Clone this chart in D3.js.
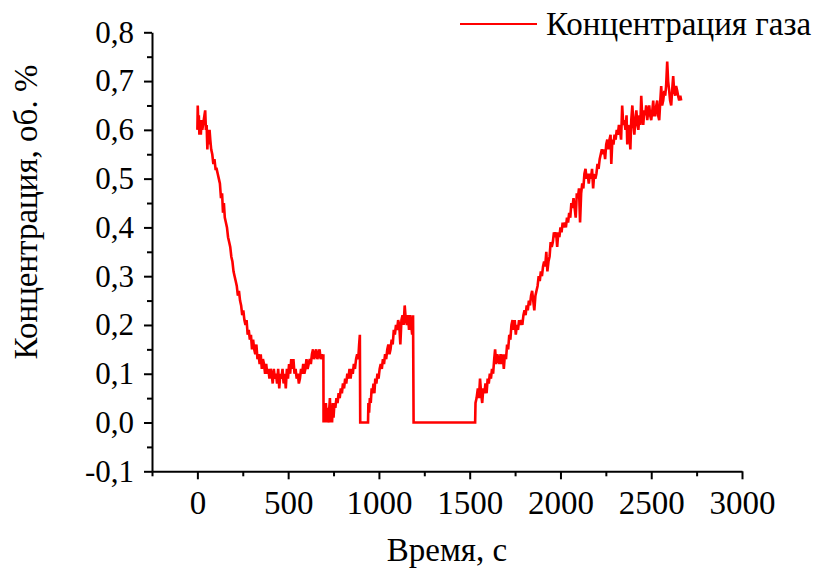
<!DOCTYPE html>
<html>
<head>
<meta charset="utf-8">
<script src="https://cdn.jsdelivr.net/npm/d3@7"></script>
<style>
  html, body { margin: 0; padding: 0; background: #fff; }
  svg { display: block; }
</style>
</head>
<body>
<svg id="chart" width="815" height="572"></svg>
<script>
// ---- Data ----
const timeSec = [
  0,2,5,8,11,15,19,23,27,31,35,39,43,47,51,55,59,63,67,71,76,82,88,94,100,106,112,118,124,130,136,141,146,151,157,163,169,175,181,187,193,199,
  205,211,217,223,229,235,241,247,253,259,265,271,277,283,289,295,301,307,313,319,325,331,337,343,349,355,361,367,373,379,385,391,397,
  403,409,415,421,427,433,439,445,451,457,463,469,475,481,487,493,499,505,511,517,523,529,535,541,547,553,559,565,571,577,583,589,595,
  601,607,613,619,625,631,637,643,649,655,661,667,673,679,685,691,694,
  695,700,704,708,712,716,720,725,730,734,738,742,746,750,755,760,766,772,778,784,790,796,802,808,814,820,826,832,838,844,850,856,862,868,874,880,886,891,895,
  897,940,942,946,950,955,960,965,970,975,980,986,992,998,1004,1010,1016,1022,1028,1034,1040,1046,1052,1058,1064,1070,1076,1082,1088,1094,1100,1106,1112,1118,1124,1130,1136,1142,1148,1154,1160,1166,1172,1178,1183,1188,
  1191,1530,1532,1538,1545,1551,1557,1563,1569,1575,1581,1587,1593,1599,1605,1611,1617,1623,1629,1635,1640,1646,1652,1658,1664,1670,1676,1682,1688,1694,1700,
  1706,1712,1718,1724,1730,1736,1742,1748,1754,1760,1766,1772,1778,1784,1790,1796,1802,1808,1814,1820,1826,1832,1838,1844,1850,1856,1862,1868,1874,1880,1886,1892,1898,
  1904,1910,1916,1922,1928,1934,1940,1946,1952,1958,1964,1970,1976,1982,1988,1994,2000,2006,2012,2018,2024,2030,2036,2042,2048,2054,2060,2066,2072,2078,2084,2090,2096,
  2102,2108,2114,2120,2126,2132,2138,2144,2150,2156,2162,2168,2174,2180,2186,2192,2198,2204,2210,2216,2222,2228,2234,2240,2246,2252,2258,2264,2270,2276,2280,2286,2292,2298,
  2304,2310,2316,2322,2328,2334,2340,2346,2352,2358,2364,2368,2374,2380,2385,2390,2396,2402,2407,2412,2418,2424,2429,2435,2440,2445,2450,2456,2462,2467,2472,2478,2484,2489,2494,
  2500,2506,2511,2516,2522,2528,2533,2538,2544,2550,2555,2560,2566,2572,2577,2582,2588,2593,2599,2604,2610,2615,2621,2626,2632,2637,2643,2648,2654,2660,2665
];
const gasConc = [
  0.60,0.65,0.61,0.63,0.59,0.61,0.59,0.62,0.60,0.61,0.62,0.63,0.64,0.60,0.61,0.56,0.60,0.57,0.60,0.58,0.56,0.55,0.53,0.54,0.52,0.52,0.51,0.50,0.49,0.46,0.47,0.43,0.45,0.42,0.41,0.40,0.38,0.37,0.36,0.34,0.33,0.31,
  0.30,0.29,0.28,0.26,0.27,0.25,0.24,0.22,0.23,0.21,0.20,0.21,0.18,0.19,0.17,0.18,0.15,0.17,0.15,0.14,0.16,0.13,0.14,0.12,0.14,0.11,0.13,0.12,0.10,0.12,0.10,0.11,0.09,
  0.11,0.10,0.08,0.11,0.09,0.10,0.08,0.11,0.07,0.10,0.09,0.11,0.08,0.10,0.07,0.11,0.09,0.12,0.10,0.13,0.11,0.13,0.10,0.11,0.09,0.10,0.08,0.09,0.11,0.10,0.12,0.10,0.11,
  0.13,0.11,0.12,0.13,0.12,0.14,0.15,0.13,0.14,0.15,0.13,0.14,0.15,0.13,0.14,0.13,0.14,
  0.00,0.03,0.00,0.04,0.00,0.03,0.00,0.02,0.05,0.00,0.02,0.00,0.04,0.01,0.04,0.03,0.05,0.04,0.06,0.05,0.07,0.06,0.08,0.07,0.09,0.08,0.10,0.09,0.11,0.09,0.11,0.10,0.12,0.11,0.13,0.14,0.13,0.16,0.18,
  0.00,0.00,0.04,0.02,0.05,0.04,0.07,0.06,0.08,0.06,0.09,0.08,0.10,0.09,0.11,0.12,0.11,0.13,0.12,0.14,0.13,0.15,0.16,0.14,0.15,0.17,0.16,0.19,0.18,0.20,0.19,0.21,0.20,0.16,0.21,0.22,0.20,0.24,0.21,0.20,0.22,0.19,0.22,0.20,0.18,0.22,
  0.00,0.00,0.04,0.05,0.07,0.05,0.09,0.06,0.04,0.07,0.06,0.08,0.06,0.09,0.08,0.10,0.09,0.11,0.10,0.13,0.15,0.12,0.14,0.13,0.12,0.14,0.12,0.14,0.11,0.14,0.13,
  0.16,0.15,0.18,0.17,0.20,0.21,0.19,0.21,0.18,0.20,0.19,0.21,0.20,0.21,0.20,0.22,0.23,0.22,0.24,0.23,0.25,0.24,0.26,0.27,0.25,0.23,0.26,0.27,0.28,0.30,0.29,0.31,0.30,
  0.32,0.33,0.32,0.35,0.31,0.33,0.34,0.37,0.36,0.37,0.39,0.38,0.39,0.36,0.39,0.38,0.40,0.39,0.41,0.40,0.41,0.40,0.42,0.41,0.43,0.42,0.45,0.44,0.46,0.44,0.42,0.47,0.46,
  0.48,0.41,0.47,0.49,0.48,0.51,0.52,0.50,0.51,0.49,0.51,0.50,0.52,0.48,0.51,0.50,0.51,0.53,0.52,0.54,0.55,0.56,0.55,0.56,0.54,0.57,0.58,0.56,0.58,0.59,0.53,0.58,0.57,0.59,
  0.58,0.60,0.59,0.61,0.60,0.58,0.65,0.61,0.62,0.60,0.63,0.57,0.61,0.59,0.56,0.62,0.65,0.61,0.59,0.62,0.64,0.61,0.60,0.63,0.61,0.67,0.63,0.61,0.64,0.63,0.65,0.62,0.64,0.65,0.63,
  0.62,0.64,0.66,0.63,0.63,0.65,0.66,0.63,0.62,0.66,0.69,0.65,0.66,0.68,0.67,0.69,0.74,0.70,0.68,0.66,0.65,0.68,0.71,0.68,0.67,0.69,0.68,0.67,0.66,0.67,0.66
];
const xMajorTicks = [0, 500, 1000, 1500, 2000, 2500, 3000];
const xMinorTicks = [-250, 250, 750, 1250, 1750, 2250, 2750];
const yMajorTicks = [-0.1, 0.0, 0.1, 0.2, 0.3, 0.4, 0.5, 0.6, 0.7, 0.8];
const yMinorTicks = [-0.05, 0.05, 0.15, 0.25, 0.35, 0.45, 0.55, 0.65, 0.75];
const xTitle = "Время, с";
const yTitle = "Концентрация, об. %";
const seriesName = "Концентрация газа";

// ---- Chart ----
const FONT = "'Liberation Serif', 'Times New Roman', Tinos, 'DejaVu Serif', 'Noto Serif', serif";
const svg = d3.select("#chart");
const x = d3.scaleLinear().domain([-250, 3000]).range([152, 742]);
const y = d3.scaleLinear().domain([-0.1, 0.8]).range([471.3, 32.3]);
const commaFmt = v => d3.format(".1f")(v).replace(".", ",").replace("−", "-");

const data = timeSec.map((t, i) => ({ t, v: gasConc[i] }));

// line
const line = d3.line().x(d => x(d.t)).y(d => y(d.v));
svg.append("path")
  .datum(data)
  .attr("fill", "none")
  .attr("stroke", "#ff0000")
  .attr("stroke-width", 2.6)
  .attr("d", line);

// axes
const axisY0 = y(-0.1);
const gxMinor = svg.append("g").attr("transform", `translate(0,${axisY0})`)
  .call(d3.axisBottom(x).tickValues(xMinorTicks).tickSize(5).tickFormat(""));
const gx = svg.append("g").attr("transform", `translate(0,${axisY0})`)
  .call(d3.axisBottom(x).tickValues(xMajorTicks).tickSize(8).tickSizeOuter(0).tickPadding(11).tickFormat(d3.format("d")));
const gyMinor = svg.append("g").attr("transform", `translate(${x(-250)},0)`)
  .call(d3.axisLeft(y).tickValues(yMinorTicks).tickSize(5).tickFormat(""));
const gy = svg.append("g").attr("transform", `translate(${x(-250)},0)`)
  .call(d3.axisLeft(y).tickValues(yMajorTicks).tickSize(8).tickSizeOuter(0).tickPadding(10).tickFormat(commaFmt));

[gxMinor, gx, gyMinor, gy].forEach(g => {
  g.attr("font-family", FONT);
  g.selectAll("path.domain").attr("stroke", "#000").attr("stroke-width", 2);
  g.selectAll(".tick line").attr("stroke", "#000").attr("stroke-width", 2);
});
gxMinor.select("path.domain").remove();
gyMinor.select("path.domain").remove();
gx.selectAll("text").attr("font-size", 33).style("font-family", FONT).attr("fill", "#000");
gy.selectAll("text").attr("font-size", 31).style("font-family", FONT).attr("fill", "#000");

// axis titles
svg.append("text")
  .attr("x", 447).attr("y", 561)
  .attr("text-anchor", "middle")
  .attr("font-size", 33)
  .style("font-family", FONT)
  .text(xTitle);
svg.append("text")
  .attr("transform", "translate(37,212) rotate(-90)")
  .attr("text-anchor", "middle")
  .attr("font-size", 33)
  .style("font-family", FONT)
  .text(yTitle);

// legend
svg.append("line")
  .attr("x1", 460).attr("x2", 537).attr("y1", 24).attr("y2", 24)
  .attr("stroke", "#ff0000").attr("stroke-width", 2);
svg.append("text")
  .attr("x", 546).attr("y", 35)
  .attr("font-size", 33)
  .style("font-family", FONT)
  .text(seriesName);
</script>
</body>
</html>
